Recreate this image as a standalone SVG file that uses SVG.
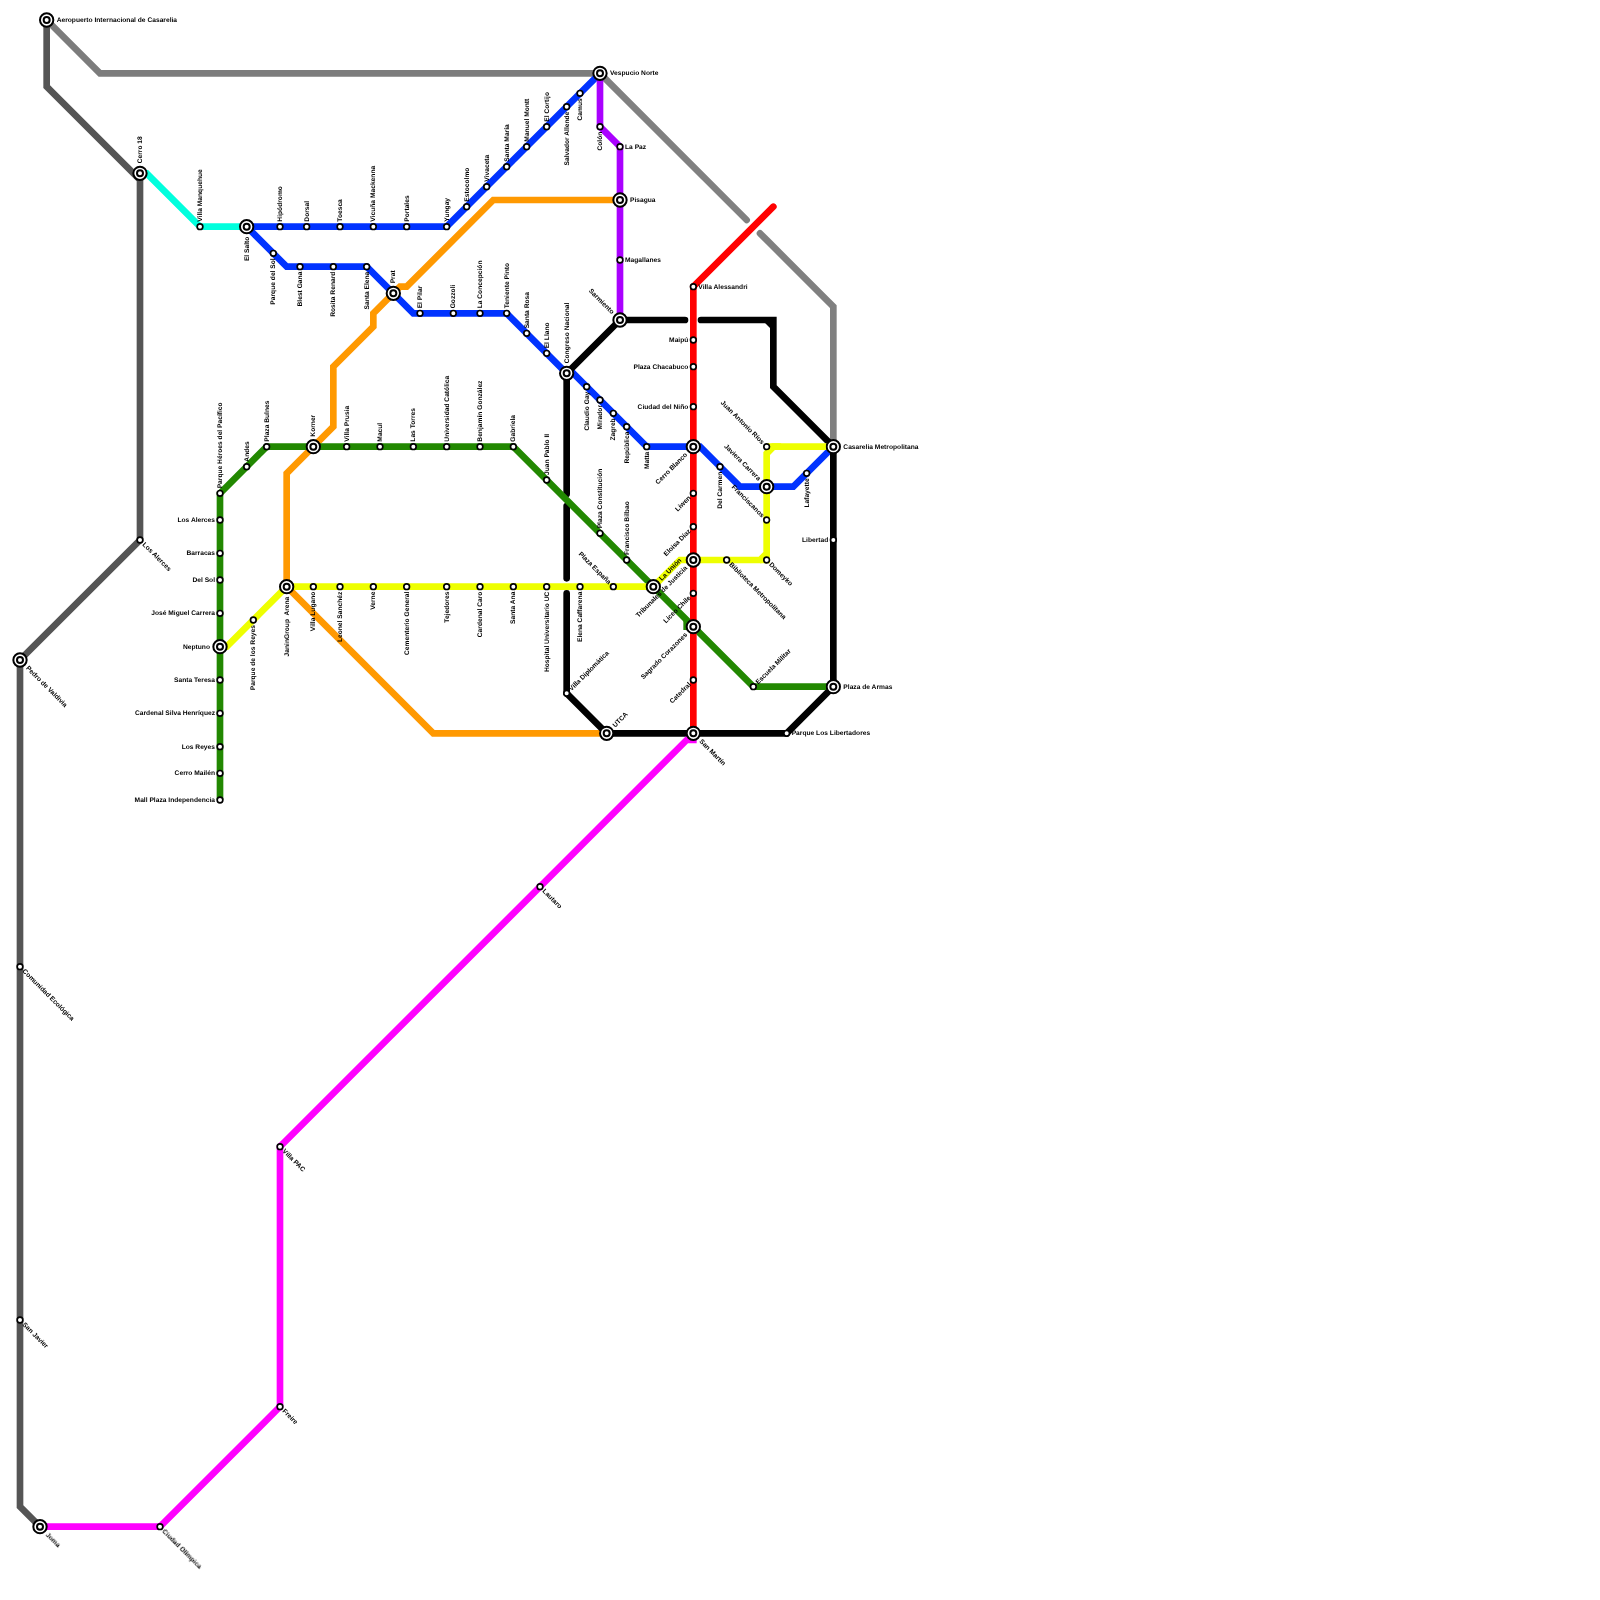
<svg xmlns="http://www.w3.org/2000/svg" width="1600" height="1600" viewBox="0 0 1600 1600">
<style>
#map{opacity:.999}
.l{fill:none;stroke-width:20}
.r{stroke-linecap:round}
.b{stroke:#000}
text{font-family:"Liberation Sans",Arial,sans-serif;font-weight:bold;font-size:20px;fill:#000;dominant-baseline:central;white-space:pre;text-rendering:geometricPrecision}
.e{text-anchor:end}
.u{transform:rotate(-90deg)}
.dr{transform:rotate(45deg)}
.ur{transform:rotate(-45deg)}
.so{fill:#fff;stroke:#000;stroke-width:5}
.io{fill:#fff;stroke:#000;stroke-width:6}
</style>
<defs>
<g id="s"><circle class="so" r="8.5"/></g>
<g id="i"><circle class="io" r="20"/><circle class="io" r="9"/></g>
</defs>
<rect width="1600" height="1600" fill="#fff"/>
<g id="map" transform="scale(0.333333)">
<g id="connectors">
<polyline class="l" stroke="#555" points="140,60 140,260 420,540 420,1620 60,1980 60,4520 120,4580"/>
<polyline class="l" stroke="#7c7c7c" points="140,60 300,220 1800,220"/>
<polyline class="l r" stroke="#808080" points="1800,220 2240,660"/>
<polyline class="l r" stroke="#808080" points="2280,700 2500,920 2500,1340"/>
<polyline class="l" stroke="#00ffdd" points="420,520 440,520 600,680 740,680"/>
<polyline class="l" stroke="#0033ff" points="740,680 1340,680 1800,220"/>
<polyline class="l" stroke="#0033ff" points="740,680 860,800 1100,800 1240,940 1520,940 1700,1120 1720,1120 1940,1340 2100,1340 2220,1460 2380,1460 2500,1340"/>
<polyline class="l" stroke="#ff9900" points="1860,600 1480,600 1220,860 1200,860 1120,940 1120,980 1000,1100 1000,1280 860,1420 860,1760 1300,2200 1820,2200"/>
<polyline class="l" stroke="#aa00ff" points="1800,220 1800,380 1860,440 1860,960"/>
<polyline class="l r b" points="2055,960 1860,960 1700,1120 1700,1482"/>
<polyline class="l r b" points="1700,1518 1700,1735"/>
<polyline class="l r b" points="1700,1780 1700,2080 1820,2200 2360,2200 2500,2060 2500,1340 2320,1160 2320,960 2103,960"/>
<polyline class="l b" points="2300,960 2320,980"/>
<polyline class="l" stroke="#228800" points="660,2400 660,1480 800,1340 1540,1340 2260,2060 2500,2060"/>
<polyline class="l" stroke="#228800" points="2060,1860 2060,1880 2080,1880"/>
<polyline class="l" stroke="#eeff00" points="660,1940 680,1940 860,1760 1960,1760 2040,1680 2280,1680 2300,1660 2300,1360 2320,1340 2500,1340"/>
<polyline class="l" stroke="#eeff00" points="2300,1340 2320,1340 2300,1360"/>
<polyline class="l" stroke="#eeff00" points="2280,1680 2300,1680 2300,1660"/>
<polyline class="l r" stroke="#ff0000" points="2320,620 2080,860"/>
<polyline class="l" stroke="#ff0000" points="2080,860 2080,2200"/>
<polyline class="l" stroke="#ff00ff" points="120,4580 480,4580 840,4220 840,3440 2060,2220 2080,2220 2080,2200"/>
</g>
<g id="aeropuerto" transform="translate(140,60)"><use href="#i"/><text x="30">Aeropuerto Internacional de Casarelia</text></g>
<g id="cerro-18" transform="translate(420,520)"><use href="#i"/><text class="u" x="30">Cerro 18</text></g>
<g id="villa-manquehue" transform="translate(600,680)"><use href="#s"/><text class="u" x="15">Villa Manquehue</text></g>
<g id="el-salto" transform="translate(740,680)"><use href="#i"/><text class="u e" x="-30">El Salto</text></g>
<g id="hipodromo" transform="translate(840,680)"><use href="#s"/><text class="u" x="15">Hipódromo</text></g>
<g id="dorsal" transform="translate(920,680)"><use href="#s"/><text class="u" x="15">Dorsal</text></g>
<g id="toesca" transform="translate(1020,680)"><use href="#s"/><text class="u" x="15">Toesca</text></g>
<g id="vicuna-mackenna" transform="translate(1120,680)"><use href="#s"/><text class="u" x="15">Vicuña Mackenna</text></g>
<g id="portales" transform="translate(1220,680)"><use href="#s"/><text class="u" x="15">Portales</text></g>
<g id="yungay" transform="translate(1340,680)"><use href="#s"/><text class="u" x="15">Yungay</text></g>
<g id="estocolmo" transform="translate(1400,620)"><use href="#s"/><text class="u" x="15">Estocolmo</text></g>
<g id="vivaceta" transform="translate(1460,560)"><use href="#s"/><text class="u" x="15">Vivaceta</text></g>
<g id="santa-maria" transform="translate(1520,500)"><use href="#s"/><text class="u" x="15">Santa María</text></g>
<g id="manuel-montt" transform="translate(1580,440)"><use href="#s"/><text class="u" x="15">Manuel Montt</text></g>
<g id="el-cortijo" transform="translate(1640,380)"><use href="#s"/><text class="u" x="15">El Cortijo</text></g>
<g id="salvador-allende" transform="translate(1700,320)"><use href="#s"/><text class="u e" x="-15">Salvador Allende</text></g>
<g id="camus" transform="translate(1740,280)"><use href="#s"/><text class="u e" x="-15">Camus</text></g>
<g id="vespucio-norte" transform="translate(1800,220)"><use href="#i"/><text x="30">Vespucio Norte</text></g>
<g id="colon" transform="translate(1800,380)"><use href="#s"/><text class="u e" x="-15">Colón</text></g>
<g id="la-paz" transform="translate(1860,440)"><use href="#s"/><text x="15">La Paz</text></g>
<g id="pisagua" transform="translate(1860,600)"><use href="#i"/><text x="30">Pisagua</text></g>
<g id="magallanes" transform="translate(1860,780)"><use href="#s"/><text x="15">Magallanes</text></g>
<g id="sarmiento" transform="translate(1860,960)"><use href="#i"/><text class="dr e" x="-30">Sarmiento</text></g>
<g id="parque-del-sol" transform="translate(820,760)"><use href="#s"/><text class="u e" x="-15">Parque del Sol</text></g>
<g id="blest-gana" transform="translate(900,800)"><use href="#s"/><text class="u e" x="-15">Blest Gana</text></g>
<g id="rosita-renard" transform="translate(1000,800)"><use href="#s"/><text class="u e" x="-15">Rosita Renard</text></g>
<g id="santa-elena" transform="translate(1100,800)"><use href="#s"/><text class="u e" x="-15">Santa Elena</text></g>
<g id="prat" transform="translate(1180,880)"><use href="#i"/><text class="u" x="30">Prat</text></g>
<g id="el-pilar" transform="translate(1260,940)"><use href="#s"/><text class="u" x="15">El Pilar</text></g>
<g id="gozzoli" transform="translate(1360,940)"><use href="#s"/><text class="u" x="15">Gozzoli</text></g>
<g id="la-concepcion" transform="translate(1440,940)"><use href="#s"/><text class="u" x="15">La Concepción</text></g>
<g id="teniente-pinto" transform="translate(1520,940)"><use href="#s"/><text class="u" x="15">Teniente Pinto</text></g>
<g id="santa-rosa" transform="translate(1580,1000)"><use href="#s"/><text class="u" x="15">Santa Rosa</text></g>
<g id="el-llano" transform="translate(1640,1060)"><use href="#s"/><text class="u" x="15">El Llano</text></g>
<g id="congreso-nacional" transform="translate(1700,1120)"><use href="#i"/><text class="u" x="30">Congreso Nacional</text></g>
<g id="claudio-gay" transform="translate(1760,1160)"><use href="#s"/><text class="u e" x="-15">Claudio Gay</text></g>
<g id="mirador" transform="translate(1800,1200)"><use href="#s"/><text class="u e" x="-15">Mirador</text></g>
<g id="zagreb" transform="translate(1840,1240)"><use href="#s"/><text class="u e" x="-15">Zagreb</text></g>
<g id="republica" transform="translate(1880,1280)"><use href="#s"/><text class="u e" x="-15">República</text></g>
<g id="matta" transform="translate(1940,1340)"><use href="#s"/><text class="u e" x="-15">Matta</text></g>
<g id="cerro-blanco" transform="translate(2080,1340)"><use href="#i"/><text class="ur e" x="-30">Cerro Blanco</text></g>
<g id="villa-alessandri" transform="translate(2080,860)"><use href="#s"/><text x="15">Villa Alessandri</text></g>
<g id="maipu" transform="translate(2080,1020)"><use href="#s"/><text class="e" x="-15">Maipú</text></g>
<g id="plaza-chacabuco" transform="translate(2080,1100)"><use href="#s"/><text class="e" x="-15">Plaza Chacabuco</text></g>
<g id="ciudad-del-nino" transform="translate(2080,1220)"><use href="#s"/><text class="e" x="-15">Ciudad del Niño</text></g>
<g id="liwen" transform="translate(2080,1480)"><use href="#s"/><text class="ur e" x="-15">Liwen</text></g>
<g id="eloisa-diaz" transform="translate(2080,1580)"><use href="#s"/><text class="ur e" x="-15">Eloisa Díaz</text></g>
<g id="tribunales-de-justicia" transform="translate(2080,1680)"><use href="#i"/><text class="ur e" x="-30">Tribunales de Justicia</text></g>
<g id="liceo-chile" transform="translate(2080,1780)"><use href="#s"/><text class="ur e" x="-15">Liceo Chile</text></g>
<g id="sagrado-corazones" transform="translate(2080,1880)"><use href="#i"/><text class="ur e" x="-30">Sagrado Corazones</text></g>
<g id="catedral" transform="translate(2080,2040)"><use href="#s"/><text class="ur e" x="-15">Catedral</text></g>
<g id="san-martin" transform="translate(2080,2200)"><use href="#i"/><text class="dr" x="30">San Martín</text></g>
<g id="utca" transform="translate(1820,2200)"><use href="#i"/><text class="ur" x="30">UTCA</text></g>
<g id="villa-diplomatica" transform="translate(1700,2080)"><use href="#s"/><text class="ur" x="15">Villa Diplomática</text></g>
<g id="parque-heroes" transform="translate(660,1480)"><use href="#s"/><text class="u" x="15">Parque Héroes del Pacífico</text></g>
<g id="andes" transform="translate(740,1400)"><use href="#s"/><text class="u" x="15">Andes</text></g>
<g id="plaza-bulnes" transform="translate(800,1340)"><use href="#s"/><text class="u" x="15">Plaza Bulnes</text></g>
<g id="korner" transform="translate(940,1340)"><use href="#i"/><text class="u" x="30">Korner</text></g>
<g id="villa-prusia" transform="translate(1040,1340)"><use href="#s"/><text class="u" x="15">Villa Prusia</text></g>
<g id="macul" transform="translate(1140,1340)"><use href="#s"/><text class="u" x="15">Macul</text></g>
<g id="las-torres" transform="translate(1240,1340)"><use href="#s"/><text class="u" x="15">Las Torres</text></g>
<g id="universidad-catolica" transform="translate(1340,1340)"><use href="#s"/><text class="u" x="15">Universidad Católica</text></g>
<g id="benjamin-gonzalez" transform="translate(1440,1340)"><use href="#s"/><text class="u" x="15">Benjamín González</text></g>
<g id="gabriela" transform="translate(1540,1340)"><use href="#s"/><text class="u" x="15">Gabriela</text></g>
<g id="juan-pablo-ii" transform="translate(1640,1440)"><use href="#s"/><text class="u" x="15">Juan Pablo II</text></g>
<g id="plaza-constitucion" transform="translate(1800,1600)"><use href="#s"/><text class="u" x="15">Plaza Constitución</text></g>
<g id="francisco-bilbao" transform="translate(1880,1680)"><use href="#s"/><text class="u" x="15">Francisco Bilbao</text></g>
<g id="escuela-militar" transform="translate(2260,2060)"><use href="#s"/><text class="ur" x="15">Escuela Militar</text></g>
<g id="los-alerces-g" transform="translate(660,1560)"><use href="#s"/><text class="e" x="-15">Los Alerces</text></g>
<g id="barracas" transform="translate(660,1660)"><use href="#s"/><text class="e" x="-15">Barracas</text></g>
<g id="del-sol" transform="translate(660,1740)"><use href="#s"/><text class="e" x="-15">Del Sol</text></g>
<g id="jose-miguel-carrera" transform="translate(660,1840)"><use href="#s"/><text class="e" x="-15">José Miguel Carrera</text></g>
<g id="neptuno" transform="translate(660,1940)"><use href="#i"/><text class="e" x="-30">Neptuno</text></g>
<g id="santa-teresa" transform="translate(660,2040)"><use href="#s"/><text class="e" x="-15">Santa Teresa</text></g>
<g id="cardenal-silva" transform="translate(660,2140)"><use href="#s"/><text class="e" x="-15">Cardenal Silva Henríquez</text></g>
<g id="los-reyes" transform="translate(660,2240)"><use href="#s"/><text class="e" x="-15">Los Reyes</text></g>
<g id="cerro-mailen" transform="translate(660,2320)"><use href="#s"/><text class="e" x="-15">Cerro Mailén</text></g>
<g id="mall-plaza" transform="translate(660,2400)"><use href="#s"/><text class="e" x="-15">Mall Plaza Independencia</text></g>
<g id="parque-de-los-reyes" transform="translate(760,1860)"><use href="#s"/><text class="u e" x="-15">Parque de los Reyes</text></g>
<g id="janingroup-arena" transform="translate(860,1760)"><use href="#i"/><text class="u e" x="-30">JaninGroup  Arena</text></g>
<g id="villa-lugano" transform="translate(940,1760)"><use href="#s"/><text class="u e" x="-15">Villa Lugano</text></g>
<g id="leonel-sanchez" transform="translate(1020,1760)"><use href="#s"/><text class="u e" x="-15">Leonel Sanchéz</text></g>
<g id="verne" transform="translate(1120,1760)"><use href="#s"/><text class="u e" x="-15">Verne</text></g>
<g id="cementerio-general" transform="translate(1220,1760)"><use href="#s"/><text class="u e" x="-15">Cementerio General</text></g>
<g id="tejedores" transform="translate(1340,1760)"><use href="#s"/><text class="u e" x="-15">Tejedores</text></g>
<g id="cardenal-caro" transform="translate(1440,1760)"><use href="#s"/><text class="u e" x="-15">Cardenal Caro</text></g>
<g id="santa-ana" transform="translate(1540,1760)"><use href="#s"/><text class="u e" x="-15">Santa Ana</text></g>
<g id="hospital-uc" transform="translate(1640,1760)"><use href="#s"/><text class="u e" x="-15">Hospital Universitario UC</text></g>
<g id="elena-caffarena" transform="translate(1740,1760)"><use href="#s"/><text class="u e" x="-15">Elena Caffarena</text></g>
<g id="plaza-espana" transform="translate(1840,1760)"><use href="#s"/><text class="dr e" x="-15">Plaza España</text></g>
<g id="la-union" transform="translate(1960,1760)"><use href="#i"/><text class="ur" x="30">La Unión</text></g>
<g id="biblioteca" transform="translate(2180,1680)"><use href="#s"/><text class="dr" x="15">Biblioteca Metropolitana</text></g>
<g id="domeyko" transform="translate(2300,1680)"><use href="#s"/><text class="dr" x="15">Domeyko</text></g>
<g id="franciscanos" transform="translate(2300,1560)"><use href="#s"/><text class="dr e" x="-15">Franciscanos</text></g>
<g id="javiera-carrera" transform="translate(2300,1460)"><use href="#i"/><text class="dr e" x="-30">Javiera Carrera</text></g>
<g id="juan-antonio-rios" transform="translate(2300,1340)"><use href="#s"/><text class="dr e" x="-15">Juan Antonio Ríos</text></g>
<g id="del-carmen" transform="translate(2160,1400)"><use href="#s"/><text class="u e" x="-15">Del Carmen</text></g>
<g id="lafayette" transform="translate(2420,1420)"><use href="#s"/><text class="u e" x="-15">Lafayette</text></g>
<g id="casarelia" transform="translate(2500,1340)"><use href="#i"/><text x="30">Casarelia Metropolitana</text></g>
<g id="libertad" transform="translate(2500,1620)"><use href="#s"/><text class="e" x="-15">Libertad</text></g>
<g id="plaza-de-armas" transform="translate(2500,2060)"><use href="#i"/><text x="30">Plaza de Armas</text></g>
<g id="parque-libertadores" transform="translate(2360,2200)"><use href="#s"/><text x="15">Parque Los Libertadores</text></g>
<g id="los-alerces" transform="translate(420,1620)"><use href="#s"/><text class="dr" x="15">Los Alerces</text></g>
<g id="pedro-de-valdivia" transform="translate(60,1980)"><use href="#i"/><text class="dr" x="30">Pedro de Valdivia</text></g>
<g id="comunidad-ecologica" transform="translate(60,2900)"><use href="#s"/><text class="dr" x="15">Comunidad Ecológica</text></g>
<g id="san-javier" transform="translate(60,3960)"><use href="#s"/><text class="dr" x="15">San Javier</text></g>
<g id="joma" transform="translate(120,4580)"><use href="#i"/><text class="dr" x="30">Joma</text></g>
<g id="ciudad-olimpica" transform="translate(480,4580)"><use href="#s"/><text class="dr" x="15">Ciudad Olímpica</text></g>
<g id="freire" transform="translate(840,4220)"><use href="#s"/><text class="dr" x="15">Freire</text></g>
<g id="villa-pac" transform="translate(840,3440)"><use href="#s"/><text class="dr" x="15">Villa PAC</text></g>
<g id="lautaro" transform="translate(1620,2660)"><use href="#s"/><text class="dr" x="15">Lautaro</text></g>
</g>
</svg>
